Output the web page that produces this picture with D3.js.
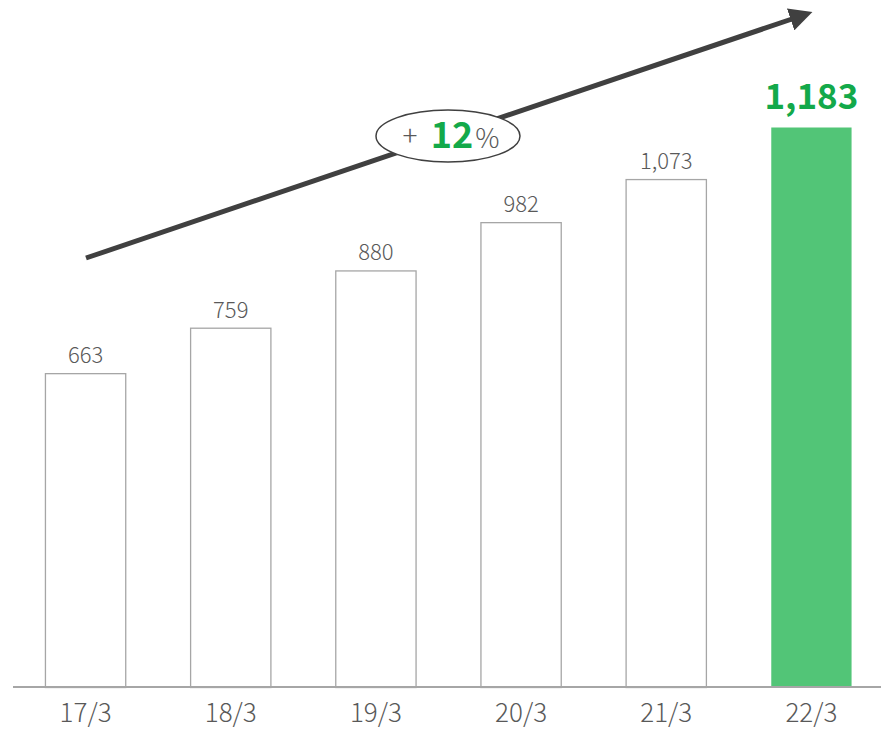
<!DOCTYPE html>
<html>
<head>
<meta charset="utf-8">
<script src="https://cdn.jsdelivr.net/npm/d3@7"></script>
<style>
  html, body { margin: 0; padding: 0; background: #fff; }
  svg { display: block; font-family: "Noto Sans CJK JP", "Noto Sans", sans-serif; }
</style>
</head>
<body>
<svg id="chart" width="881" height="730"></svg>
<script>
// Fiscal years and values
const categories = ["17/3", "18/3", "19/3", "20/3", "21/3", "22/3"];
const values = [663, 759, 880, 982, 1073, 1183];
const growthLabel = { sign: "+", number: "12", unit: "%" };

const svg = d3.select("#chart");
const baseY = 687;

const x = d3.scaleBand()
  .domain(categories)
  .range([13, 884])
  .paddingInner(0.44)
  .paddingOuter(0.22);

const y = d3.scaleLinear()
  .domain([0, 1183])
  .range([baseY, 127]);

const fmt = d3.format(",");
const last = categories.length - 1;

// Bars
svg.append("g").selectAll("rect")
  .data(values)
  .join("rect")
  .attr("x", (d, i) => x(categories[i]) + 0.5)
  .attr("y", d => y(d) + 0.5)
  .attr("width", x.bandwidth() - 1)
  .attr("height", d => baseY - y(d))
  .attr("fill", (d, i) => i === last ? "#52c577" : "#fff")
  .attr("stroke", (d, i) => i === last ? "none" : "#a6a6a6")
  .attr("stroke-width", 1.3);

// Baseline axis
const axis = d3.axisBottom(x).tickSize(0).tickPadding(0);
const gAxis = svg.append("g")
  .attr("transform", `translate(0,${baseY})`)
  .call(axis);
gAxis.select(".domain").remove();
gAxis.append("line")
  .attr("x1", 13).attr("x2", 881)
  .attr("y1", 0).attr("y2", 0)
  .attr("stroke", "#a6a6a6").attr("stroke-width", 2);
gAxis.selectAll(".tick text")
  .attr("fill", "#595959")
  .attr("font-size", 26)
  .attr("font-weight", 300)
  .attr("font-family", "\"Noto Sans CJK JP\", sans-serif")
  .attr("y", 35)
  .attr("dy", null);

// Value labels
svg.append("g").selectAll("text")
  .data(values)
  .join("text")
  .attr("x", (d, i) => x(categories[i]) + x.bandwidth() / 2)
  .attr("y", (d, i) => y(d) - (i === last ? 18 : 10))
  .attr("text-anchor", "middle")
  .attr("fill", (d, i) => i === last ? "#13a94a" : "#595959")
  .attr("font-size", (d, i) => i === last ? 35 : 22)
  .attr("font-weight", (d, i) => i === last ? 700 : 300)
  .text(d => fmt(d));

// Growth arrow
const defs = svg.append("defs");
defs.append("marker")
  .attr("id", "arrowhead")
  .attr("viewBox", "0 0 10 10")
  .attr("refX", 2).attr("refY", 5)
  .attr("markerWidth", 4.6).attr("markerHeight", 4.6)
  .attr("orient", "auto")
  .append("path")
  .attr("d", "M0,0 L10,5 L0,10 Z")
  .attr("fill", "#404040");

svg.append("line")
  .attr("x1", 86).attr("y1", 258)
  .attr("x2", 795).attr("y2", 18)
  .attr("stroke", "#404040")
  .attr("stroke-width", 5)
  .attr("marker-end", "url(#arrowhead)");

// Growth rate badge
const cx = 448, cy = 136;
svg.append("ellipse")
  .attr("cx", cx).attr("cy", cy)
  .attr("rx", 72).attr("ry", 26)
  .attr("fill", "#fff")
  .attr("stroke", "#404040")
  .attr("stroke-width", 1.5);

svg.append("text")
  .attr("x", 410).attr("y", cy + 10)
  .attr("text-anchor", "middle")
  .attr("fill", "#595959").attr("font-size", 28).attr("font-weight", 300)
  .text(growthLabel.sign);

const t = svg.append("text")
  .attr("x", 465).attr("y", cy + 12)
  .attr("text-anchor", "middle");
t.append("tspan").attr("fill", "#13a94a").attr("font-size", 36).attr("font-weight", 700).text(growthLabel.number);
t.append("tspan").attr("fill", "#595959").attr("font-size", 27).attr("font-weight", 300).attr("dx", 2).text(growthLabel.unit);
</script>
</body>
</html>
